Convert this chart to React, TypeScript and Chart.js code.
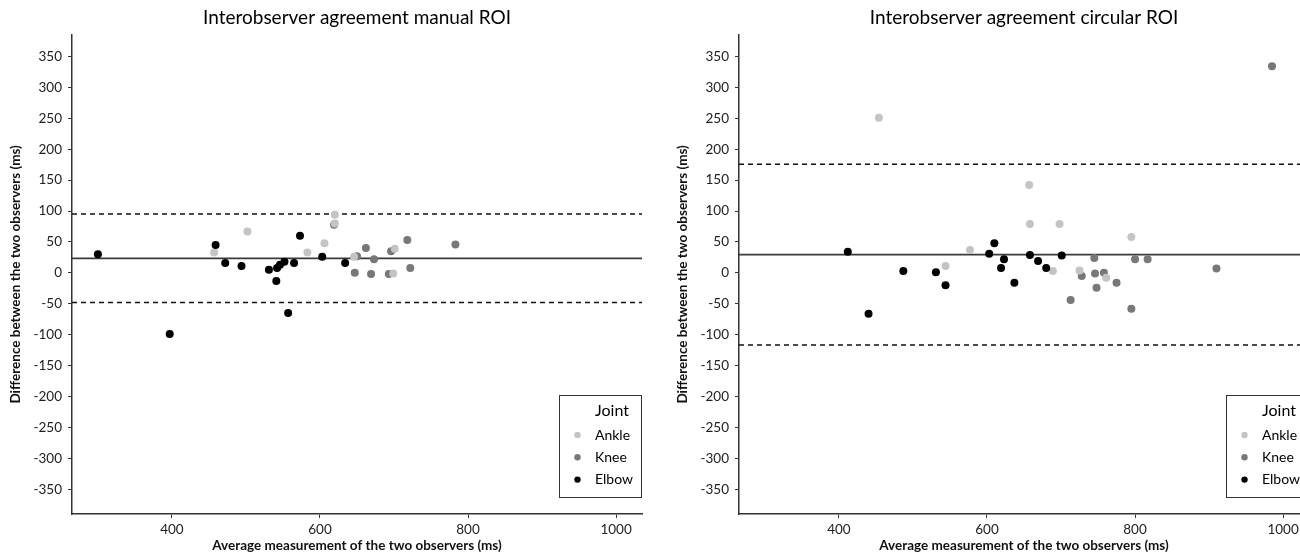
import React, { useEffect, useRef } from "react";
import { Chart, registerables } from "chart.js";

Chart.register(...registerables);

// ---------- data ----------
const X_TICKS = [400, 600, 800, 1000];
const Y_TICKS = [-350, -300, -250, -200, -150, -100, -50, 0, 50, 100, 150, 200, 250, 300, 350];
const X_MIN = 265;
const X_MAX = 1035;
const Y_MIN = -390;
const Y_MAX = 385;

const JOINTS = ["Ankle", "Knee", "Elbow"];
const JOINT_COLORS = ["#c4c4c4", "#787878", "#000000"];

const TITLES = ["Interobserver agreement manual ROI", "Interobserver agreement circular ROI"];
const X_TITLE = "Average measurement of the two observers (ms)";
const Y_TITLE = "Difference between the two observers (ms)";
const LEGEND_TITLE = "Joint";

// Manual ROI
const MANUAL_ANKLE_X = [457, 502, 583, 606, 620, 620, 646, 701, 699];
const MANUAL_ANKLE_Y = [33, 67, 33, 48, 80, 94, 26, 39, -1];
const MANUAL_KNEE_X = [619, 650, 647, 662, 669, 673, 696, 693, 718, 722, 783];
const MANUAL_KNEE_Y = [78, 27, 0, 40, -2, 22, 35, -2, 53, 8, 46];
const MANUAL_ELBOW_X = [300, 397, 459, 472, 494, 531, 541, 542, 546, 552, 557, 565, 573, 603, 634];
const MANUAL_ELBOW_Y = [30, -99, 45, 16, 11, 5, -13, 8, 13, 18, -65, 16, 60, 26, 16];
const MANUAL_MEAN = 23.5;
const MANUAL_LIMITS = [95, -48];

// Circular ROI
const CIRC_ANKLE_X = [454, 544, 577, 657, 658, 689, 698, 725, 761, 795];
const CIRC_ANKLE_Y = [251, 11, 37, 142, 79, 3, 79, 4, -8, 58];
const CIRC_KNEE_X = [713, 728, 745, 746, 748, 758, 775, 795, 800, 817, 910, 985];
const CIRC_KNEE_Y = [-44, -5, 24, -1, -24, 0, -16, -58, 22, 22, 7, 334];
const CIRC_ELBOW_X = [412, 440, 487, 531, 544, 603, 610, 619, 623, 637, 658, 669, 680, 701];
const CIRC_ELBOW_Y = [34, -66, 3, 1, -20, 31, 48, 8, 22, -16, 29, 19, 8, 28];
const CIRC_MEAN = 29.5;
const CIRC_LIMITS = [175.5, -116.5];

// ---------- helpers ----------
const FONT = "Lato, 'Open Sans', sans-serif";
const CANVAS_W = 667;
const CANVAS_H = 554;

const zip = (xs: number[], ys: number[]) => xs.map((x, i) => ({ x, y: ys[i] }));

const legendBox = {
  id: "legendBox",
  afterDatasetsDraw(chart: any) {
    const { ctx, chartArea } = chart;
    const w = 82;
    const h = 102;
    const x = chartArea.right - 1 - w;
    const y = chartArea.bottom - 17 - h;
    ctx.save();
    ctx.fillStyle = "#ffffff";
    ctx.fillRect(x, y, w, h);
    ctx.strokeStyle = "#333333";
    ctx.lineWidth = 1;
    ctx.strokeRect(Math.round(x) + 0.5, Math.round(y) + 0.5, w, h);
    ctx.fillStyle = "#000000";
    ctx.textBaseline = "middle";
    ctx.textAlign = "left";
    ctx.font = `16px ${FONT}`;
    ctx.fillText(LEGEND_TITLE, x + 36, y + 16);
    ctx.font = `14px ${FONT}`;
    JOINTS.forEach((j, i) => {
      const cy = y + 40 + i * 22.3;
      ctx.beginPath();
      ctx.fillStyle = JOINT_COLORS[i];
      ctx.arc(x + 18.5, cy, 3.2, 0, Math.PI * 2);
      ctx.fill();
      ctx.fillStyle = "#000000";
      ctx.fillText(j, x + 36, cy);
    });
    ctx.restore();
  },
};

function buildConfig(title: string, groups: { x: number[]; y: number[] }[], mean: number, limits: number[]) {
  const orders = [4, 5, 3];
  const pointSets = groups.map((g, i) => ({
    label: JOINTS[i],
    data: zip(g.x, g.y),
    backgroundColor: JOINT_COLORS[i],
    borderColor: JOINT_COLORS[i],
    pointRadius: 4,
    pointBorderWidth: 0,
    showLine: false,
    order: orders[i],
  }));

  const meanSet = {
    label: "mean",
    data: [
      { x: X_MIN, y: mean },
      { x: X_MAX, y: mean },
    ],
    borderColor: "#3a3a3a",
    borderWidth: 1.8,
    pointRadius: 0,
    showLine: true,
    order: 10,
  };
  const limitSets = limits.map((l) => ({
    label: "limit",
    data: [
      { x: X_MIN, y: l },
      { x: X_MAX, y: l },
    ],
    borderColor: "#111111",
    borderWidth: 1.5,
    borderDash: [5, 4],
    pointRadius: 0,
    showLine: true,
    order: 10,
  }));

  return {
    type: "scatter" as const,
    data: { datasets: [...limitSets, meanSet, ...pointSets] },
    options: {
      animation: false,
      responsive: false,
      devicePixelRatio: 1,
      layout: { padding: { left: 0, right: 25, top: 0, bottom: 0 } },
      plugins: {
        legend: { display: false },
        tooltip: { enabled: false },
        title: {
          display: true,
          text: title,
          fullSize: false,
          color: "#000000",
          font: { family: FONT, size: 19, weight: "normal", lineHeight: 1.2 },
          padding: { top: 6, bottom: 6 },
        },
      },
      scales: {
        x: {
          type: "linear",
          min: X_MIN,
          max: X_MAX,
          afterBuildTicks: (axis: any) => {
            axis.ticks = X_TICKS.map((v) => ({ value: v }));
          },
          afterFit: (scale: any) => {
            scale.height = 40;
          },
          border: { display: true, color: "#333333", width: 1.5 },
          grid: { display: true, drawOnChartArea: false, drawTicks: true, tickLength: 4, color: "#333333" },
          ticks: {
            color: "#222222",
            font: { family: FONT, size: 13.5 },
            padding: 4,
            maxRotation: 0,
            callback: (v: any) => String(v),
          },
          title: {
            display: true,
            text: X_TITLE,
            color: "#111111",
            font: { family: FONT, size: 13.5, weight: "bold", lineHeight: 1.2 },
            padding: { top: 0, bottom: 0 },
          },
        },
        y: {
          type: "linear",
          min: Y_MIN,
          max: Y_MAX,
          afterBuildTicks: (axis: any) => {
            axis.ticks = Y_TICKS.map((v) => ({ value: v }));
          },
          afterFit: (scale: any) => {
            scale.width = 72;
          },
          border: { display: true, color: "#333333", width: 1.5 },
          grid: { display: true, drawOnChartArea: false, drawTicks: true, tickLength: 4, color: "#333333" },
          ticks: {
            color: "#222222",
            font: { family: FONT, size: 13.5 },
            padding: 6,
            callback: (v: any) => String(v),
          },
          title: {
            display: true,
            text: Y_TITLE,
            color: "#111111",
            font: { family: FONT, size: 13.5, weight: "bold", lineHeight: 1.2 },
            padding: { top: 8, bottom: 0 },
          },
        },
      },
    },
    plugins: [legendBox],
  };
}

function Panel({ title, groups, mean, limits, left }: any) {
  const ref = useRef<HTMLCanvasElement>(null);
  useEffect(() => {
    if (!ref.current) return;
    const chart = new Chart(ref.current, buildConfig(title, groups, mean, limits) as any);
    return () => chart.destroy();
  }, []);
  return (
    <canvas
      ref={ref}
      width={CANVAS_W}
      height={CANVAS_H}
      style={{ position: "absolute", left, top: 0, width: CANVAS_W, height: CANVAS_H }}
    />
  );
}

export default function App() {
  return (
    <div
      style={{
        position: "fixed",
        left: 0,
        top: 0,
        width: 1300,
        height: 554,
        overflow: "hidden",
        background: "#ffffff",
      }}
    >
      <Panel
        title={TITLES[0]}
        groups={[
          { x: MANUAL_ANKLE_X, y: MANUAL_ANKLE_Y },
          { x: MANUAL_KNEE_X, y: MANUAL_KNEE_Y },
          { x: MANUAL_ELBOW_X, y: MANUAL_ELBOW_Y },
        ]}
        mean={MANUAL_MEAN}
        limits={MANUAL_LIMITS}
        left={0}
      />
      <Panel
        title={TITLES[1]}
        groups={[
          { x: CIRC_ANKLE_X, y: CIRC_ANKLE_Y },
          { x: CIRC_KNEE_X, y: CIRC_KNEE_Y },
          { x: CIRC_ELBOW_X, y: CIRC_ELBOW_Y },
        ]}
        mean={CIRC_MEAN}
        limits={CIRC_LIMITS}
        left={667}
      />
    </div>
  );
}
